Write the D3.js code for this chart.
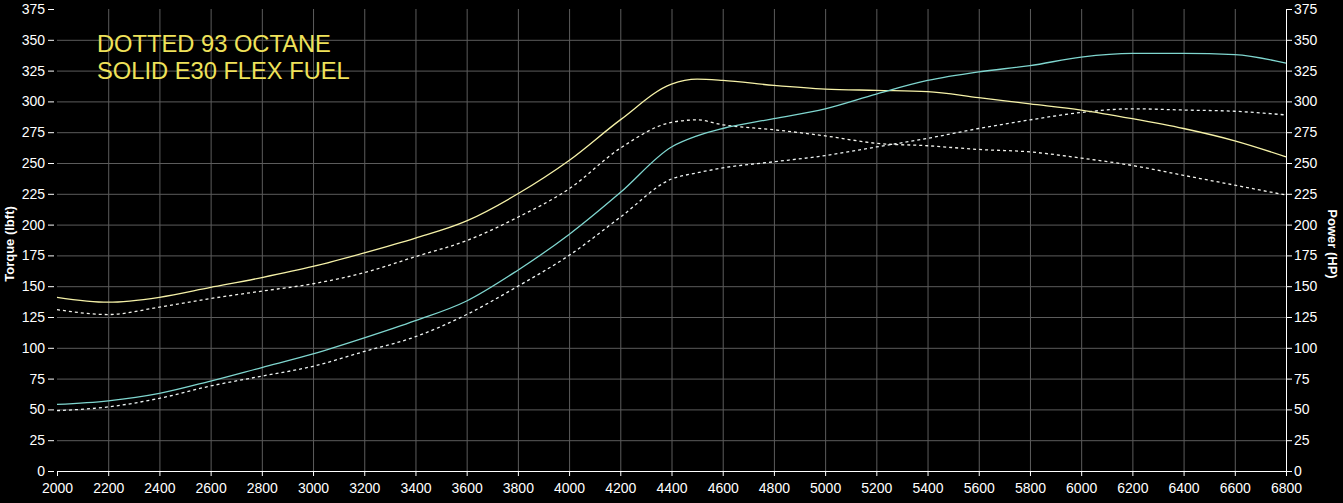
<!DOCTYPE html>
<html>
<head>
<meta charset="utf-8">
<script src="https://cdn.jsdelivr.net/npm/d3@7"></script>
<style>
  html, body { margin: 0; padding: 0; background: #000; }
  svg { display: block; }
  text { font-family: "Liberation Sans", Arial, sans-serif; }
</style>
</head>
<body>
<svg id="chart" width="1343" height="503"></svg>
<script>
// RPM points the curves are read at
const rpm = [2000, 2200, 2400, 2600, 2800, 3000, 3200, 3400, 3600, 3800, 4000, 4200,
             4400, 4500, 4600, 4800, 5000, 5200, 5400, 5600, 5800, 6000, 6200, 6400, 6600, 6800];

// E30 flex fuel (solid)
const torqueE30 = [141, 137, 141, 149, 157, 166, 177, 189, 203, 225, 252, 285,
                   314, 318, 317, 313, 310, 309, 308, 303, 298, 293, 286, 278, 268, 255];
const powerE30  = [54, 57, 63, 73, 84, 95, 108, 122, 138, 163, 192, 226,
                   263, 272, 278, 286, 294, 306, 317, 324, 329, 336, 339, 339, 338, 331];

// 93 octane (dotted)
const torque93 = [131, 127, 133, 140, 146, 152, 161, 174, 187, 206, 229, 262,
                  283, 285, 281, 277, 272, 266, 264, 261, 259, 254, 248, 240, 232, 224];
const power93  = [49, 52, 59, 69, 77, 85, 97, 109, 127, 150, 175, 206,
                  237, 242, 246, 251, 256, 263, 270, 278, 285, 291, 294, 293, 292, 289];

const xTicks = d3.range(2000, 6801, 200);
const yTicks = d3.range(0, 376, 25);
const legendLines = ["DOTTED 93 OCTANE", "SOLID E30 FLEX FUEL"];

const width = 1343, height = 503;
const margin = { top: 9, right: 57, bottom: 32, left: 57 };

const svg = d3.select('#chart');

const x = d3.scaleLinear().domain([2000, 6800]).range([margin.left, width - margin.right]);
const yL = d3.scaleLinear().domain([0, 375]).range([height - margin.bottom, margin.top]);
const yR = d3.scaleLinear().domain([0, 375]).range([height - margin.bottom, margin.top]);

// Grid
const grid = svg.append('g').attr('stroke', '#5c5c5c').attr('stroke-width', 1);
grid.selectAll('line.v')
    .data(xTicks.filter(d => d > 2000 && d < 6800))
    .join('line')
    .attr('x1', d => x(d) + 0.5).attr('x2', d => x(d) + 0.5)
    .attr('y1', yL(375)).attr('y2', yL(0));
grid.selectAll('line.h')
    .data(yTicks.filter(d => d > 0 && d < 375))
    .join('line')
    .attr('x1', x(2000)).attr('x2', x(6800))
    .attr('y1', d => yL(d) + 0.5).attr('y2', d => yL(d) + 0.5);

// Axes
const styleAxis = g => {
    g.selectAll('text').attr('fill', '#fff').style('font-size', '14px');
    g.selectAll('line').attr('stroke', '#fff');
    g.selectAll('path.domain').attr('stroke', '#fff');
};

svg.append('g')
    .attr('transform', `translate(0,${height - margin.bottom})`)
    .call(d3.axisBottom(x).tickValues(xTicks).tickFormat(d3.format('d')).tickSize(5).tickPadding(7).tickSizeOuter(0))
    .call(styleAxis);

svg.append('g')
    .attr('transform', `translate(${margin.left - 3},0)`)
    .call(d3.axisLeft(yL).tickValues(yTicks).tickSize(6).tickPadding(3))
    .call(g => g.select('.domain').remove())
    .call(styleAxis);

svg.append('g')
    .attr('transform', `translate(${width - margin.right},0)`)
    .call(d3.axisRight(yR).tickValues(yTicks).tickSize(6).tickPadding(2).tickSizeOuter(0))
    .call(styleAxis);

// Axis titles
svg.append('text')
    .attr('transform', `translate(14,${(yL(0) + yL(375)) / 2 + 4}) rotate(-90)`)
    .attr('text-anchor', 'middle')
    .attr('fill', '#fff')
    .style('font-size', '13px').style('font-weight', 'bold')
    .text('Torque (lbft)');

svg.append('text')
    .attr('transform', `translate(${width - 15},${(yL(0) + yL(375)) / 2 + 4}) rotate(90)`)
    .attr('text-anchor', 'middle')
    .attr('fill', '#fff')
    .style('font-size', '13px').style('font-weight', 'bold')
    .text('Power (HP)');

// Curves
const series = [
    { values: torque93, scale: yL, color: '#f4f4ee', dash: '3,3' },
    { values: power93, scale: yR, color: '#eef4f4', dash: '3,3' },
    { values: torqueE30, scale: yL, color: '#f6f2a8', dash: null },
    { values: powerE30, scale: yR, color: '#7fd6cf', dash: null }
];

series.forEach(s => {
    const line = d3.line()
        .x((d, i) => x(rpm[i]))
        .y(d => s.scale(d))
        .curve(d3.curveMonotoneX);
    svg.append('path')
        .datum(s.values)
        .attr('fill', 'none')
        .attr('stroke', s.color)
        .attr('stroke-width', 1.3)
        .attr('stroke-dasharray', s.dash)
        .attr('d', line);
});

// Legend text
svg.append('g')
    .selectAll('text')
    .data(legendLines)
    .join('text')
    .attr('x', 97)
    .attr('y', (d, i) => 52 + i * 27)
    .attr('fill', '#efe25a')
    .style('font-size', '23.7px')
    .text(d => d);
</script>
</body>
</html>
